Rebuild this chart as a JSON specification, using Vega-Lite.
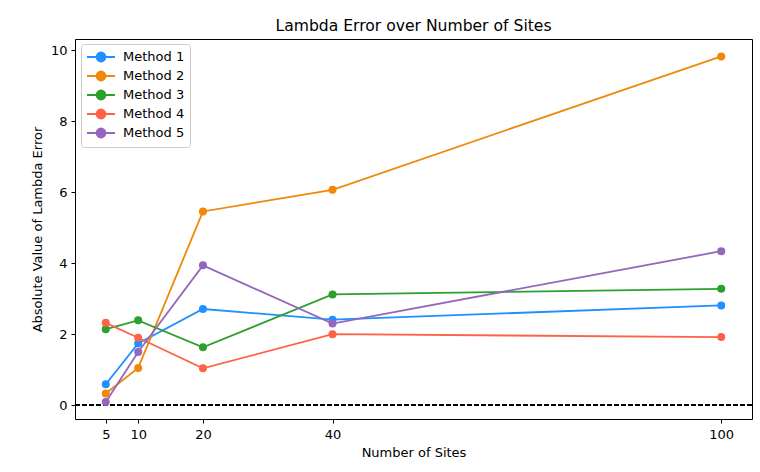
{
  "$schema": "https://vega.github.io/schema/vega-lite/v6.json",
  "autosize": "none",
  "width": 677,
  "height": 380,
  "padding": {"left": 75, "top": 39, "right": 8, "bottom": 53},
  "background": "white",
  "title": {"text": "Lambda Error over Number of Sites", "font": "DejaVu Sans", "fontSize": 15.6, "fontWeight": "normal", "color": "#000", "anchor": "middle", "offset": 4},
  "config": {
    "view": {"stroke": "#000", "strokeWidth": 1},
    "axis": {"font": "DejaVu Sans", "labelFont": "DejaVu Sans", "titleFont": "DejaVu Sans", "labelFontSize": 13, "titleFontSize": 13, "titleFontWeight": "normal", "labelColor": "#000", "titleColor": "#000", "tickColor": "#000", "tickSize": 4, "domain": false, "grid": false, "labelPadding": 4}
  },
  "data": {"values": [
    {"sites": 5, "error": 0.59, "method": "Method 1"},
    {"sites": 10, "error": 1.74, "method": "Method 1"},
    {"sites": 20, "error": 2.71, "method": "Method 1"},
    {"sites": 40, "error": 2.41, "method": "Method 1"},
    {"sites": 100, "error": 2.81, "method": "Method 1"},
    {"sites": 5, "error": 0.33, "method": "Method 2"},
    {"sites": 10, "error": 1.05, "method": "Method 2"},
    {"sites": 20, "error": 5.46, "method": "Method 2"},
    {"sites": 40, "error": 6.07, "method": "Method 2"},
    {"sites": 100, "error": 9.83, "method": "Method 2"},
    {"sites": 5, "error": 2.14, "method": "Method 3"},
    {"sites": 10, "error": 2.39, "method": "Method 3"},
    {"sites": 20, "error": 1.63, "method": "Method 3"},
    {"sites": 40, "error": 3.12, "method": "Method 3"},
    {"sites": 100, "error": 3.28, "method": "Method 3"},
    {"sites": 5, "error": 2.32, "method": "Method 4"},
    {"sites": 10, "error": 1.9, "method": "Method 4"},
    {"sites": 20, "error": 1.04, "method": "Method 4"},
    {"sites": 40, "error": 2.0, "method": "Method 4"},
    {"sites": 100, "error": 1.92, "method": "Method 4"},
    {"sites": 5, "error": 0.09, "method": "Method 5"},
    {"sites": 10, "error": 1.5, "method": "Method 5"},
    {"sites": 20, "error": 3.94, "method": "Method 5"},
    {"sites": 40, "error": 2.3, "method": "Method 5"},
    {"sites": 100, "error": 4.34, "method": "Method 5"}
  ]},
  "layer": [
    {
      "mark": {"type": "rule", "color": "#000", "strokeWidth": 1.2, "strokeDash": [4.5, 2.5]},
      "encoding": {"y": {"datum": 0}}
    },
    {
      "mark": {"type": "line", "strokeWidth": 1.8, "point": {"filled": true, "size": 64, "opacity": 1}},
      "encoding": {
        "x": {"field": "sites", "type": "quantitative", "title": "Number of Sites",
              "scale": {"domain": [0.25, 104.75], "nice": false, "zero": false},
              "axis": {"values": [5, 10, 20, 40, 100], "titlePadding": 5, "labelPadding": 5}},
        "y": {"field": "error", "type": "quantitative", "title": "Absolute Value of Lambda Error",
              "scale": {"domain": [-0.39, 10.32], "nice": false, "zero": false},
              "axis": {"values": [0, 2, 4, 6, 8, 10], "titlePadding": 6}},
        "color": {"field": "method", "type": "nominal",
                  "scale": {"domain": ["Method 1", "Method 2", "Method 3", "Method 4", "Method 5"],
                            "range": ["#1e90ff", "#f0880a", "#2ca02c", "#ff6347", "#9467bd"]},
                  "legend": {"title": null, "orient": "none", "legendX": 6, "legendY": 5,
                             "fillColor": "white", "strokeColor": "#cccccc", "cornerRadius": 3,
                             "padding": 5, "rowPadding": 1,
                             "labelFont": "DejaVu Sans", "labelFontSize": 13, "labelColor": "#000", "labelOffset": 21,
                             "symbolType": "M-1,0H3M0.36,0A0.64,0.64 0 1,1 1.64,0A0.64,0.64 0 1,1 0.36,0Z",
                             "symbolSize": 196, "symbolStrokeWidth": 1.8, "symbolOpacity": 1}}
      }
    }
  ]
}
